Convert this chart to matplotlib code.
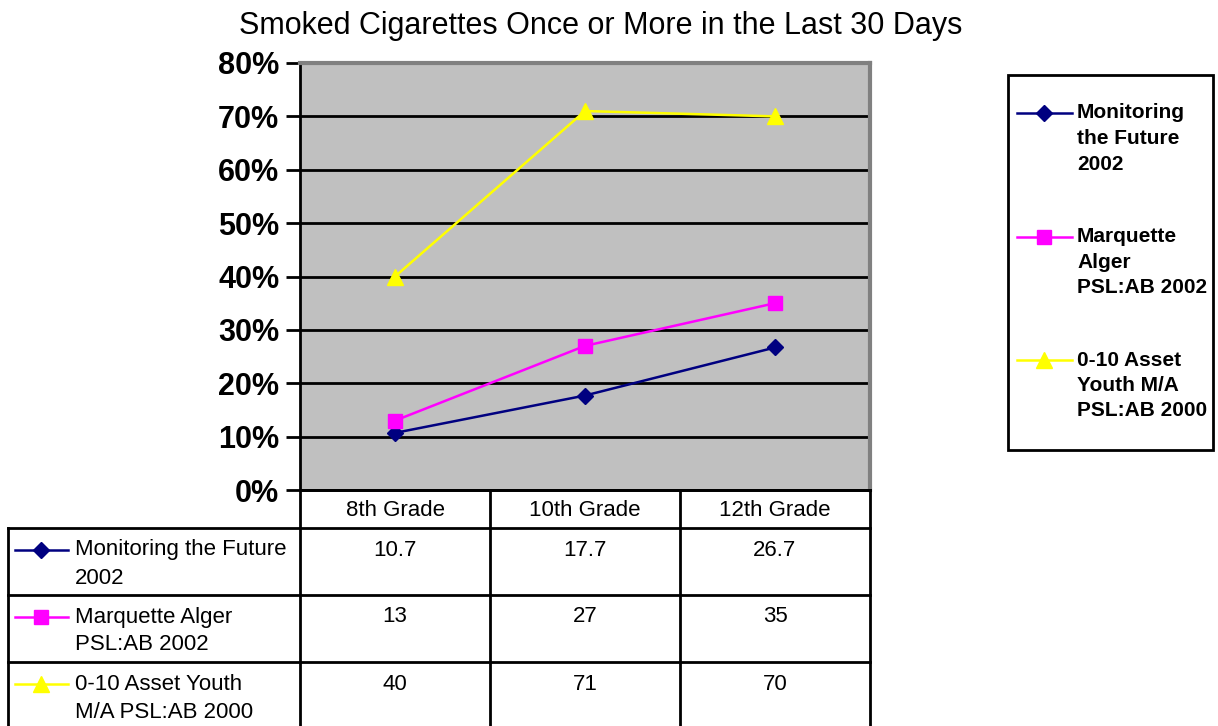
import matplotlib
matplotlib.use("Agg")
import matplotlib.pyplot as plt
from matplotlib.patches import Rectangle
from matplotlib.ticker import MultipleLocator, FuncFormatter

plt.rcParams["font.family"] = ["Liberation Sans", "DejaVu Sans"]

# ---- data ----
grades = ["8th Grade", "10th Grade", "12th Grade"]
mtf_2002 = [10.7, 17.7, 26.7]
marquette_2002 = [13, 27, 35]
asset_youth_2000 = [40, 71, 70]
table_labels = ["Monitoring the Future\n2002",
                "Marquette Alger\nPSL:AB 2002",
                "0-10 Asset Youth\nM/A PSL:AB 2000"]
legend_labels = ["Monitoring\nthe Future\n2002",
                 "Marquette\nAlger\nPSL:AB 2002",
                 "0-10 Asset\nYouth M/A\nPSL:AB 2000"]
title = "Smoked Cigarettes Once or More in the Last 30 Days"

series = [mtf_2002, marquette_2002, asset_youth_2000]
styles = [dict(color="#000080", marker="D", ms=8.5),
          dict(color="#FF00FF", marker="s", ms=10.5),
          dict(color="#FFFF00", marker="^", ms=12)]

W, H = 1218, 726
fig = plt.figure(figsize=(W / 100, H / 100), dpi=100)

# ---- main plot ----
ax = fig.add_axes([300 / W, (H - 490) / H, 570 / W, 427 / H])
ax.set_facecolor("#C0C0C0")
xs = list(range(len(grades)))
for vals, st in zip(series, styles):
    ax.plot(xs, vals, color=st["color"], marker=st["marker"], ms=st["ms"],
            mec=st["color"], mfc=st["color"], lw=1.8, zorder=3, clip_on=False)
ax.set_xlim(-0.5, len(grades) - 0.5)
ax.set_ylim(0, 80)
ax.yaxis.set_major_locator(MultipleLocator(10))
ax.yaxis.set_major_formatter(FuncFormatter(lambda v, p: f"{v:.0f}%"))
ax.grid(axis="y", color="black", lw=2)
ax.set_axisbelow(True)
ax.set_xticks([])
ax.tick_params(axis="y", length=10, width=2, direction="out", labelsize=22, pad=5)
plt.setp(ax.get_yticklabels(), fontweight="bold")
ax.spines["left"].set_color("black")
ax.spines["left"].set_linewidth(2)
ax.spines["bottom"].set_color("black")
ax.spines["bottom"].set_linewidth(2)
for s in ("top", "right"):
    ax.spines[s].set_color("#808080")
    ax.spines[s].set_linewidth(3)

fig.text(601 / W, 1 - 26 / H, title, ha="center", va="center", fontsize=22)

# ---- overlay in pixel coordinates for the data table and legend ----
ov = fig.add_axes([0, 0, 1, 1], zorder=5)
ov.set_xlim(0, W)
ov.set_ylim(H, 0)
ov.axis("off")
ov.patch.set_alpha(0)

col_x = [ax.transData.transform((x, 0))[0] for x in xs]
edges = [ax.transData.transform((x - 0.5, 0))[0] for x in xs] + \
        [ax.transData.transform((xs[-1] + 0.5, 0))[0]]
tbl_left = 8
row_edges = [490, 528, 595, 662, 729]
lk = dict(color="black", lw=2, solid_capstyle="projecting")

ov.plot([edges[0], edges[-1]], [row_edges[0]] * 2, **lk)
for y in row_edges[1:-1]:
    ov.plot([tbl_left, edges[-1]], [y, y], **lk)
ov.plot([tbl_left, tbl_left], [row_edges[1], H + 5], **lk)
for x in edges:
    ov.plot([x, x], [row_edges[0], H + 5], **lk)

for cx, g in zip(col_x, grades):
    ov.text(cx, (row_edges[0] + row_edges[1]) / 2 + 1, g, ha="center", va="center", fontsize=16)

for r, (vals, st, lab) in enumerate(zip(series, styles, table_labels)):
    ytop = row_edges[r + 1]
    yline = ytop + 22
    ov.plot([15, 68], [yline, yline], color=st["color"], lw=1.8)
    ov.plot([41], [yline], marker=st["marker"], ms=st["ms"], color=st["color"])
    for k, line in enumerate(lab.split("\n")):
        ov.text(75, yline + k * 28, line, ha="left", va="center", fontsize=16)
    for cx, v in zip(col_x, vals):
        ov.text(cx, yline, f"{v:g}", ha="center", va="center", fontsize=16)

# legend box
ov.add_patch(Rectangle((1008, 75), 205, 375, fill=False, ec="black", lw=2))
for i, (st, lab) in enumerate(zip(styles, legend_labels)):
    y0 = 113 + i * 123.5
    ov.plot([1017, 1072], [y0, y0], color=st["color"], lw=1.8)
    ov.plot([1044], [y0], marker=st["marker"], ms=st["ms"], color=st["color"])
    for k, line in enumerate(lab.split("\n")):
        ov.text(1077, y0 + k * 25.5, line, ha="left", va="center",
                fontsize=15, fontweight="bold")

fig.savefig("out.png", dpi=100)
